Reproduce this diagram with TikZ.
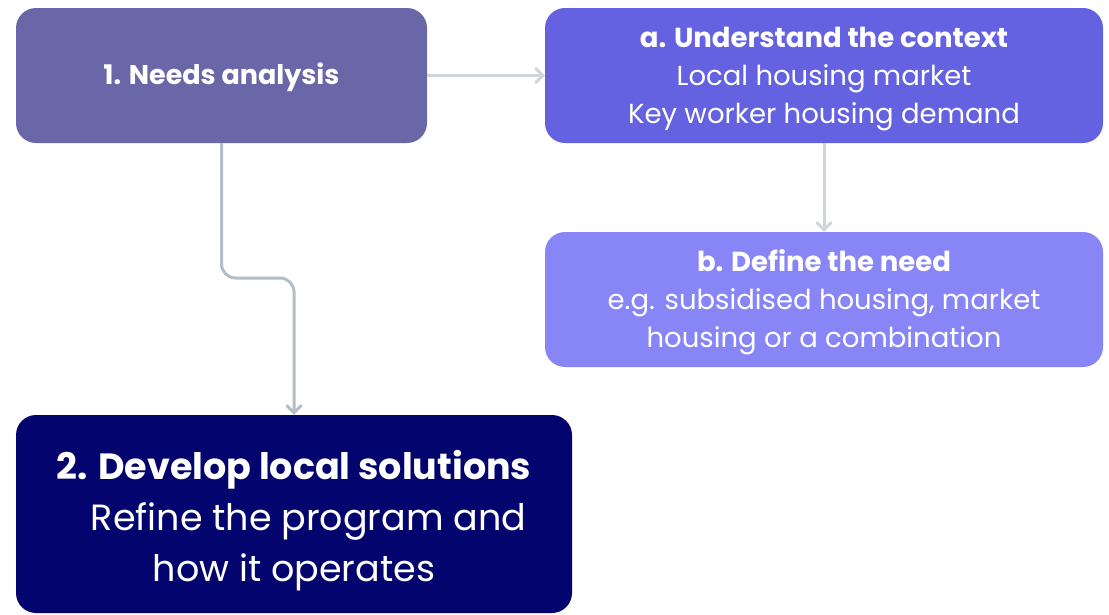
\documentclass[tikz,border=0pt]{standalone}
\usepackage{fontspec}
\setmainfont{Poppins}
\usetikzlibrary{arrows.meta}
\definecolor{cone}{HTML}{6A67A8}
\definecolor{ca}{HTML}{6462E1}
\definecolor{cb}{HTML}{8886F6}
\definecolor{ctwo}{HTML}{04046E}
\definecolor{lgray}{HTML}{D0D5D9}
\definecolor{dgray}{HTML}{B3BFC6}
\tikzset{
  box/.style={rounded corners=20pt, inner sep=0pt},
  txt/.style={text=white, align=center, inner sep=0pt},
  conn/.style={line width=3pt, -{Straight Barb[length=7pt,width=14pt,line width=3pt,line cap=round]}},
}
\begin{document}
\begin{tikzpicture}[x=1pt,y=-1pt]
\useasboundingbox[fill=white] (0,0) rectangle (1109,614);
\node[box, fill=cone, minimum width=411pt, minimum height=135pt] (n1) at (221.5,75.5) {};
\node[box, fill=ca, minimum width=558pt, minimum height=135pt] (na) at (824,75.5) {};
\node[box, fill=cb, minimum width=558pt, minimum height=135pt] (nb) at (824,299.5) {};
\node[box, fill=ctwo, minimum width=556pt, minimum height=198pt] (n2) at (294,514) {};
\node[txt, font=\fontsize{27}{38}\selectfont] (t1) at ([yshift=-2pt]n1.center) {\textbf{1. Needs analysis}};
\node[txt, font=\fontsize{27.5}{38}\selectfont] (ta) at ([yshift=-4pt]na.center) {\textbf{a. Understand the context}\\Local housing market\\Key worker housing demand};
\node[txt, font=\fontsize{27.5}{38}\selectfont] (tb) at ([yshift=-3pt]nb.center) {\textbf{b. Define the need}\\e.g. subsidised housing, market\\housing or a combination};
\node[txt, font=\fontsize{36.5}{51}\selectfont] (t2) at ([yshift=-6.5pt]n2.center) {\textbf{2. Develop local solutions}\\\hspace*{29pt}Refine the program and\\how it operates};
\coordinate (k) at (257,278);
\draw[conn, lgray] (n1.east) -- (na.west);
\draw[conn, lgray] (na.south) -- (nb.north);
\draw[conn, dgray, rounded corners=14pt] (n1.south) |- (k) -| (n2.north);
\end{tikzpicture}
\end{document}
